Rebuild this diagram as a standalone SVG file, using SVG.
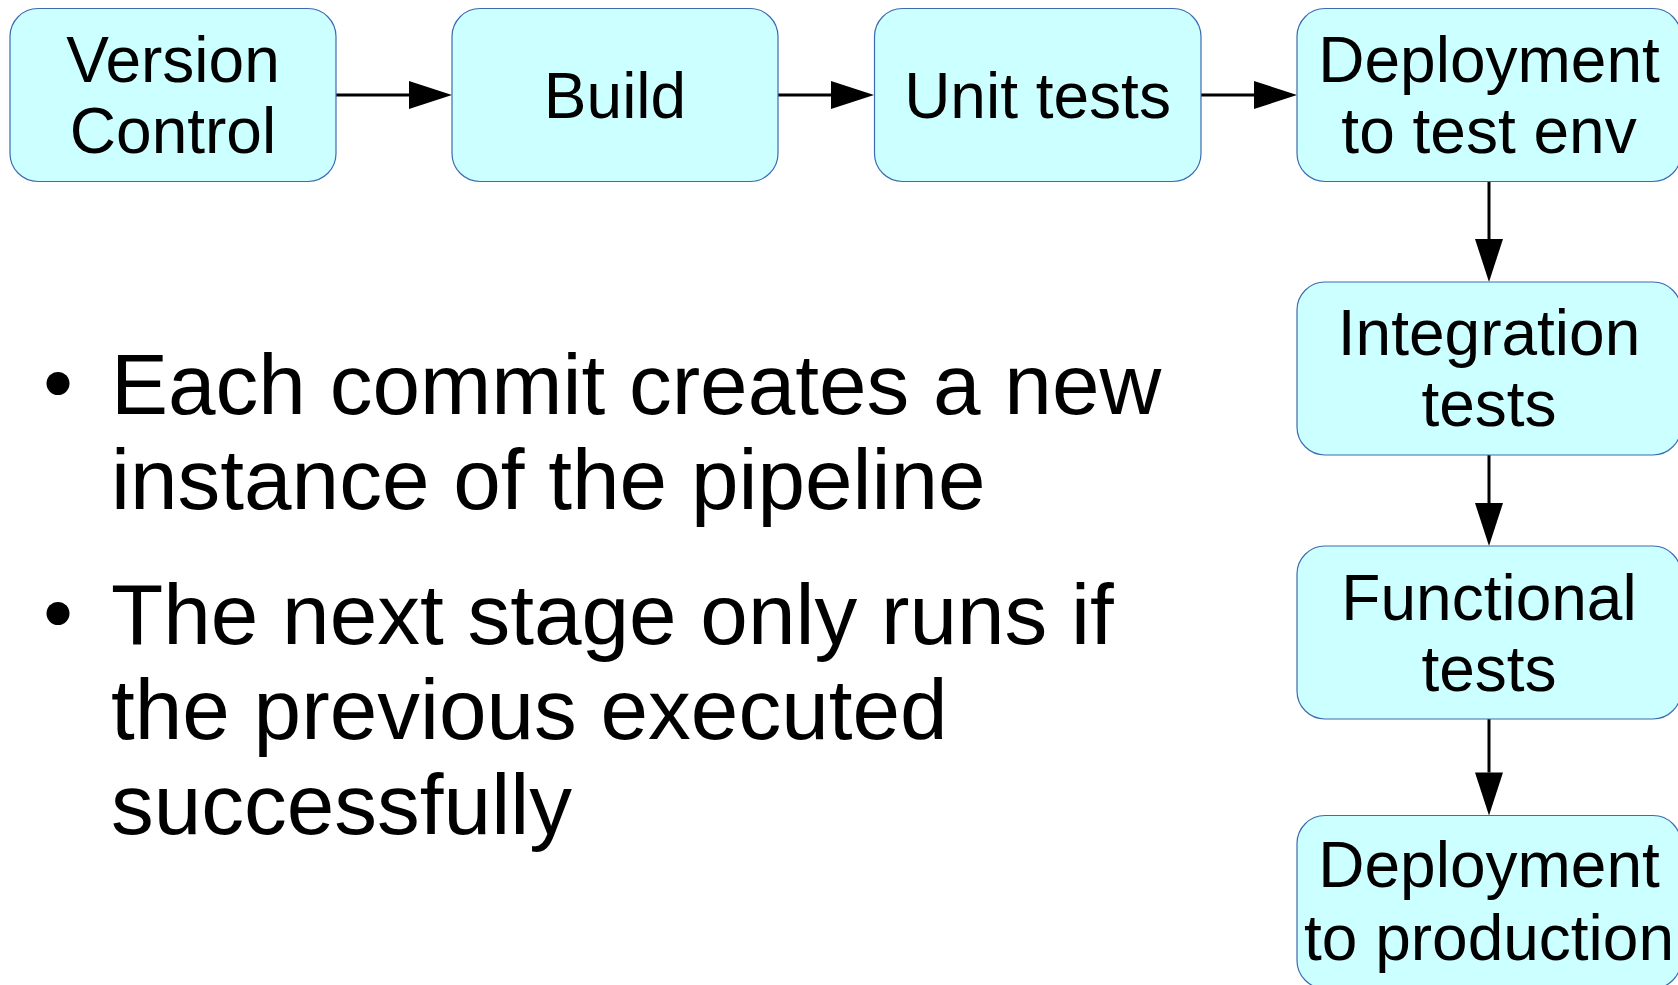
<svg xmlns="http://www.w3.org/2000/svg" width="1678" height="985" viewBox="0 0 1678 985">
  <style>
    .box { fill: #ccffff; stroke: #3c6bb0; stroke-width: 1.2; }
    .lbl { font-family: "Liberation Sans", Arial, sans-serif; font-size: 64px; fill: #000; text-anchor: middle; }
    .bul { font-family: "Liberation Sans", Arial, sans-serif; font-size: 85.5px; fill: #000; }
    .edge { stroke: #000; stroke-width: 3; fill: none; marker-end: url(#head); }
  </style>
  <defs>
    <marker id="head" markerUnits="userSpaceOnUse" markerWidth="44" markerHeight="28" refX="0" refY="14" orient="auto" overflow="visible">
      <path d="M0,0 L43,14 L0,28 Z" fill="#000"/>
    </marker>
  </defs>
  <rect width="1678" height="985" fill="#fff"/>

  <!-- pipeline connectors -->
  <g id="connectors">
    <line class="edge" x1="336" y1="95" x2="409" y2="95"/>
    <line class="edge" x1="778" y1="95" x2="831" y2="95"/>
    <line class="edge" x1="1201" y1="95" x2="1254" y2="95"/>
    <line class="edge" x1="1489" y1="181.5" x2="1489" y2="239"/>
    <line class="edge" x1="1489" y1="455" x2="1489" y2="503"/>
    <line class="edge" x1="1489" y1="719" x2="1489" y2="772.5"/>
  </g>

  <!-- pipeline stages -->
  <g id="version-control">
    <rect class="box" x="10" y="8.5" width="326" height="173" rx="28"/>
    <text class="lbl" x="173" y="81.5">Version</text>
    <text class="lbl" x="173" y="153">Control</text>
  </g>
  <g id="build">
    <rect class="box" x="452" y="8.5" width="326" height="173" rx="28"/>
    <text class="lbl" x="615" y="118">Build</text>
  </g>
  <g id="unit-tests">
    <rect class="box" x="874.5" y="8.5" width="326.5" height="173" rx="28"/>
    <text class="lbl" x="1037.5" y="118">Unit tests</text>
  </g>
  <g id="deploy-test">
    <rect class="box" x="1297" y="8.5" width="384" height="173" rx="28"/>
    <text class="lbl" x="1489" y="81.5">Deployment</text>
    <text class="lbl" x="1489" y="153">to test env</text>
  </g>
  <g id="integration-tests">
    <rect class="box" x="1297" y="282" width="384" height="173" rx="28"/>
    <text class="lbl" x="1489" y="355">Integration</text>
    <text class="lbl" x="1489" y="426">tests</text>
  </g>
  <g id="functional-tests">
    <rect class="box" x="1297" y="546" width="384" height="173" rx="28"/>
    <text class="lbl" x="1489" y="620">Functional</text>
    <text class="lbl" x="1489" y="691">tests</text>
  </g>
  <g id="deploy-production">
    <rect class="box" x="1297" y="815.5" width="384" height="173" rx="28"/>
    <text class="lbl" x="1489" y="887">Deployment</text>
    <text class="lbl" x="1489" y="960">to production</text>
  </g>

  <!-- bullet notes -->
  <g id="notes">
    <circle cx="58" cy="383.5" r="11.5" fill="#000"/>
    <text class="bul" x="111" y="414">Each commit creates a new</text>
    <text class="bul" x="111" y="509">instance of the pipeline</text>
    <circle cx="58" cy="613.5" r="11.5" fill="#000"/>
    <text class="bul" x="111" y="643.5">The next stage only runs if</text>
    <text class="bul" x="111" y="738.5">the previous executed</text>
    <text class="bul" x="111" y="834">successfully</text>
  </g>
</svg>
